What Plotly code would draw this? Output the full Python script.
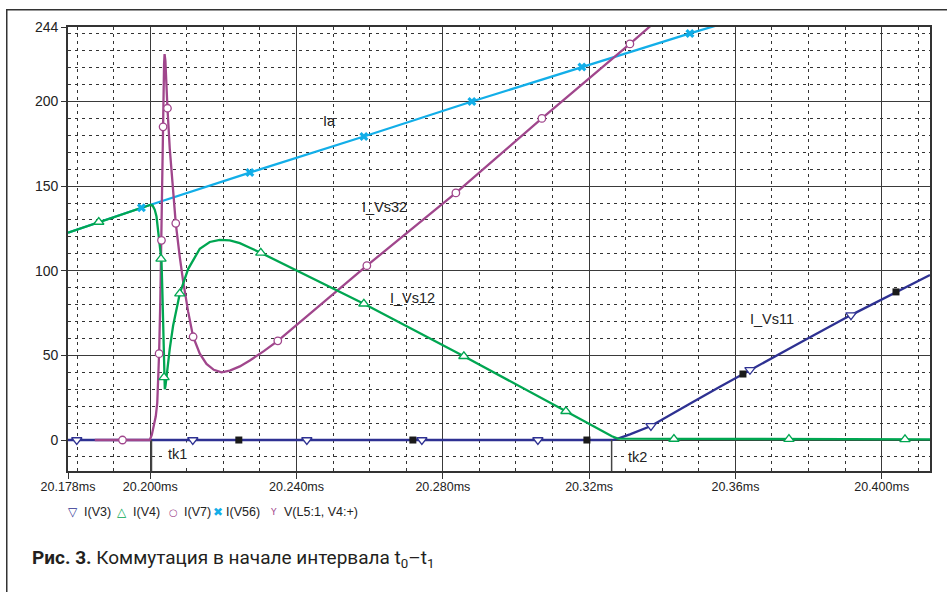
import plotly.graph_objects as go

# ---------------- data (time in ms, current in A) ----------------
# I(V3)  (I_Vs11)
v3_t = [20.1775, 20.32623, 20.32787, 20.33115, 20.33690, 20.34209, 20.34838, 20.35577,
        20.36206, 20.36398, 20.37765, 20.39160, 20.40391, 20.41321]
v3_i = [0, 0, 0.8, 3.3, 8.3, 14.5, 22.5, 31.5, 39, 41.5, 57.5, 73.8, 87.5, 97.5]
v3_mark_t = [20.17990, 20.21162, 20.24281, 20.27426, 20.30599, 20.33690, 20.36398, 20.39160]
v3_mark_i = [0, 0, 0, 0, 0, 8.3, 41.5, 73.8]

# cursor squares on I(V3)
sq_t = [20.22421, 20.27180, 20.31939, 20.36206, 20.40391]
sq_i = [0, 0, 0, 39, 87.5]

# I(V4)  (I_Vs12)
v4_t = [20.1775, 20.18591, 20.19759, 20.19932, 20.20014, 20.20068, 20.20123, 20.20170,
        20.20213, 20.20260, 20.20306, 20.20328, 20.20350, 20.20377, 20.20397, 20.20416,
        20.20443, 20.20487, 20.20533, 20.20624, 20.20807, 20.21034, 20.21354, 20.21627,
        20.21901, 20.22175, 20.22448, 20.22722, 20.23022, 20.25840, 20.28575, 20.31365,
        20.32112, 20.32623, 20.32787, 20.35030, 20.41321]
v4_i = [122.5, 128.8, 137.2, 138.6, 139, 138.3, 136, 132,
        124, 114, 106, 90, 64.5, 37, 30, 32,
        38, 46, 54, 67.5, 86.5, 101, 113, 117,
        118.2, 118, 116.3, 113.6, 110.6, 80.5, 49.5, 17,
        8.3, 2.2, 0.8, 0.7, 0.4]
v4_mark_t = [20.18591, 20.20293, 20.20377, 20.20807, 20.23022, 20.25840, 20.28575,
             20.31365, 20.34319, 20.37464, 20.40637]
v4_mark_i = [128.8, 107, 37, 86.5, 110.6, 80.5, 49.5, 17, 0.6, 0.5, 0.4]

# I(V7)  (I_Vs32)
v7_t = [20.18482, 20.19986, 20.20041, 20.20096, 20.20150, 20.20191, 20.20219, 20.20241,
        20.20274, 20.20306, 20.20334, 20.20350, 20.20377, 20.20391, 20.20413, 20.20440,
        20.20470, 20.20533, 20.20596, 20.20697, 20.20807, 20.20897, 20.21034, 20.21171,
        20.21354, 20.21537, 20.21737, 20.21947, 20.22175, 20.22448, 20.22722, 20.23104,
        20.23487, 20.25922, 20.28356, 20.30708, 20.33115, 20.33936]
v7_i = [0, 0, 3, 8, 14, 22, 35, 51,
        82, 118, 153, 185, 222, 228, 224, 208,
        196, 172, 153, 128, 108, 94, 76, 61,
        51, 45, 41.5, 40, 41, 43.5, 47, 52.5,
        58.6, 103, 146, 190, 234, 249.5]
v7_mark_t = [20.19240, 20.20241, 20.20306, 20.20350, 20.20470, 20.20697, 20.21171,
             20.23487, 20.25922, 20.28356, 20.30708, 20.33115]
v7_mark_i = [0, 51, 118, 185, 196, 128, 61, 58.6, 103, 146, 190, 234]

# I(V56)  (Ia)
v56_t = [20.1775, 20.19759, 20.22722, 20.25840, 20.28794, 20.31802, 20.34756, 20.35577]
v56_i = [122.5, 137.2, 158, 179.3, 200, 220.4, 240.2, 245.5]
v56_mark_t = [20.19759, 20.22722, 20.25840, 20.28794, 20.31802, 20.34756]
v56_mark_i = [137.2, 158, 179.3, 200, 220.4, 240.2]

x_tickvals = [20.1775, 20.200, 20.240, 20.280, 20.320, 20.360, 20.400]
x_ticktext = ["20.178ms", "20.200ms", "20.240ms", "20.280ms", "20.32ms", "20.36ms", "20.400ms"]
y_tickvals = [0, 50, 100, 150, 200, 244]
y_ticktext = ["0", "50", "100", "150", "200", "244"]
x_range = [20.1775, 20.41321]
y_range = [-18.3, 244]
tk1_t = 20.20033
tk2_t = 20.32615

NAVY = "#2e3192"
GREEN = "#00a651"
PURPLE = "#a0468c"
CYAN = "#12aee8"

fig = go.Figure()

fig.add_trace(go.Scatter(x=v3_t, y=v3_i, mode="lines", line=dict(color=NAVY, width=2.3)))
fig.add_trace(go.Scatter(x=v56_t, y=v56_i, mode="lines", line=dict(color=CYAN, width=2.3)))
fig.add_trace(go.Scatter(x=v7_t, y=v7_i, mode="lines", line=dict(color=PURPLE, width=2.3)))
fig.add_trace(go.Scatter(x=v4_t, y=v4_i, mode="lines", line=dict(color=GREEN, width=2.3)))

fig.add_trace(go.Scatter(x=v3_mark_t, y=v3_mark_i, mode="markers",
                         marker=dict(symbol="triangle-down", size=9, color="white",
                                     line=dict(color=NAVY, width=1.3))))
fig.add_trace(go.Scatter(x=v4_mark_t, y=v4_mark_i, mode="markers",
                         marker=dict(symbol="triangle-up", size=9, color="white",
                                     line=dict(color=GREEN, width=1.3))))
fig.add_trace(go.Scatter(x=v7_mark_t, y=v7_mark_i, mode="markers",
                         marker=dict(symbol="circle", size=7.5, color="white",
                                     line=dict(color=PURPLE, width=1.3))))
fig.add_trace(go.Scatter(x=v56_mark_t, y=v56_mark_i, mode="markers",
                         marker=dict(symbol="x", size=8, color=CYAN, line=dict(width=0))))
fig.add_trace(go.Scatter(x=sq_t, y=sq_i, mode="markers",
                         marker=dict(symbol="square", size=7, color="#1a1a1a")))

GRID_MAJOR = "#3a3a3a"
GRID_MINOR = "#333333"

fig.update_xaxes(range=x_range, tickmode="array", tickvals=x_tickvals, ticktext=x_ticktext,
                 showgrid=True, gridcolor=GRID_MAJOR, gridwidth=1.2,
                 ticks="outside", ticklen=6, tickcolor="#333", tickwidth=1.2,
                 ticklabelstandoff=-3,
                 showline=True, mirror=True, linecolor="#333", linewidth=1.8,
                 zeroline=False,
                 tickfont=dict(family="Liberation Sans, Arial", size=12.5, color="#222"),
                 minor=dict(dtick=0.01, tick0=20.2, showgrid=True, gridcolor=GRID_MINOR,
                            griddash="3px,4px", gridwidth=1.2, ticks=""))
fig.update_yaxes(range=y_range, tickmode="array", tickvals=y_tickvals, ticktext=y_ticktext,
                 showgrid=True, gridcolor=GRID_MAJOR, gridwidth=1.2,
                 ticks="outside", ticklen=5, tickcolor="#333", tickwidth=1.2,
                 showline=True, mirror=True, linecolor="#333", linewidth=1.8,
                 zeroline=False,
                 tickfont=dict(family="Liberation Sans, Arial", size=14, color="#222"),
                 minor=dict(dtick=10, tick0=0, showgrid=True, gridcolor=GRID_MINOR,
                            griddash="3px,4px", gridwidth=1.2, ticks=""))

# plot-area geometry in pixels (for paper coordinate conversion of decorations)
L, R, T, B = 68, 930, 27, 471
def px(xp):
    return (xp - L) / (R - L)
def py(yp):
    return (B - yp) / (B - T)

shapes = [
    dict(type="line", xref="x", yref="y", x0=tk1_t, x1=tk1_t, y0=0, y1=y_range[0],
         line=dict(color="#444", width=1.5)),
    dict(type="line", xref="x", yref="y", x0=tk2_t, x1=tk2_t, y0=0, y1=y_range[0],
         line=dict(color="#444", width=1.5)),
]

lab_font = dict(family="Liberation Sans, Arial", size=14.5, color="#222")
annotations = [
    # outer figure frame (only top and left edges fall inside the picture)
    dict(xref="paper", yref="paper", x=px(6), y=py(9), xanchor="left", yanchor="top",
         text=" ", width=1000, height=700, showarrow=False, borderpad=0,
         bordercolor="#333", borderwidth=1.5),
    dict(x=20.24910, y=188.2, text="Ia", showarrow=False, font=lab_font),
    dict(x=20.26414, y=137.5, text="I_Vs32", showarrow=False, font=lab_font),
    dict(x=20.27180, y=83.8, text="I_Vs12", showarrow=False, font=lab_font),
    dict(x=20.36999, y=71.4, text="I_Vs11", showarrow=False, font=lab_font,
         bgcolor="white", borderpad=4),
    dict(x=20.20752, y=-8.3, text="tk1", showarrow=False, font=lab_font,
         bgcolor="white", borderpad=3),
    dict(x=20.33334, y=-10.0, text="tk2", showarrow=False, font=lab_font,
         bgcolor="white", borderpad=3),
]

# legend row
leg_y = py(512)
leg_font = dict(family="Liberation Sans, Arial", size=12.5, color="#222")
legend_items = [
    (72.5, "\u25BD", NAVY, 83, "I(V3)", 12),
    (122, "\u25B3", GREEN, 132, "I(V4)", 12),
    (173, "\u25CB", PURPLE, 183, "I(V7)", 10),
    (218, "\u2716", CYAN, 225, "I(V56)", 12),
    (273, "Y", PURPLE, 283, "V(L5:1, V4:+)", 9),
]
for sx, sym, col, tx, txt, ssize in legend_items:
    annotations.append(dict(xref="paper", yref="paper", x=px(sx), y=leg_y, text=sym,
                            showarrow=False, xanchor="center", yanchor="middle",
                            font=dict(family="DejaVu Sans", size=ssize, color=col)))
    annotations.append(dict(xref="paper", yref="paper", x=px(tx), y=leg_y, text=txt,
                            showarrow=False, xanchor="left", yanchor="middle",
                            borderpad=0, font=leg_font))

annotations.append(dict(
    xref="paper", yref="paper", x=px(31), y=py(558), xanchor="left", yanchor="middle",
    showarrow=False, borderpad=0,
    text="<b>Рис. 3.</b> Коммутация в начале интервала t<sub>0</sub>–t<sub>1</sub>",
    font=dict(family="Roboto", size=19, color="#231f20")))

fig.update_layout(width=947, height=592, margin=dict(l=L, r=947 - R, t=T, b=592 - B),
                  plot_bgcolor="white", paper_bgcolor="white", showlegend=False,
                  shapes=shapes, annotations=annotations)

fig.write_html("out.html", config={"displayModeBar": False},
               post_script="document.body.style.margin='0px';document.body.style.overflow='hidden';")
